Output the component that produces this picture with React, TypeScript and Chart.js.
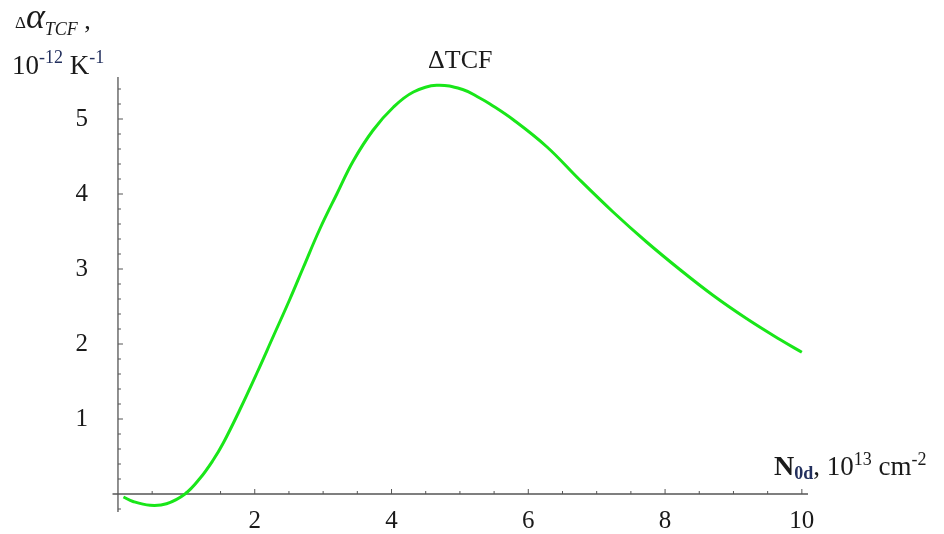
import React, { useEffect, useRef } from "react";
import { Chart, registerables } from "chart.js";

Chart.register(...registerables);

// ---- data ----
const nValues = [0.08, 0.22, 0.47, 0.71, 0.98, 1.2, 1.39, 1.54, 1.78, 2.03, 2.27, 2.51, 2.71, 2.95, 3.2, 3.44, 3.73, 4.03, 4.32, 4.66, 5.05, 5.29, 5.44, 5.78, 6.27, 6.75, 7.24, 7.73, 8.22, 8.7, 9.19, 9.68, 10.0];
const tcfValues = [-0.04, -0.1, -0.15, -0.13, 0, 0.21, 0.45, 0.68, 1.12, 1.61, 2.1, 2.59, 3.02, 3.53, 4.0, 4.44, 4.85, 5.16, 5.36, 5.45, 5.39, 5.28, 5.2, 4.99, 4.63, 4.19, 3.76, 3.36, 2.99, 2.65, 2.34, 2.06, 1.89];

const xMajorTicks = [2, 4, 6, 8, 10];
const xMinorTicks = [0.5, 1, 1.5, 2.5, 3, 3.5, 4.5, 5, 5.5, 6.5, 7, 7.5, 8.5, 9, 9.5];
const yMajorTicks = [1, 2, 3, 4, 5];
const yMinorTicks = [-0.2, 0.2, 0.4, 0.6, 0.8, 1.2, 1.4, 1.6, 1.8, 2.2, 2.4, 2.6, 2.8, 3.2, 3.4, 3.6, 3.8, 4.2, 4.4, 4.6, 4.8, 5.2, 5.4];

const chartTitle = "ΔTCF";

const SERIF = '"Liberation Serif", "Times New Roman", serif';
const NAVY = "#23305e";
const INK = "#1a1a1a";
const AXIS = "#555555";

type Run = { text: string; font: string; color?: string; dy?: number };

function drawRuns(ctx: CanvasRenderingContext2D, x: number, baseline: number, runs: Run[]) {
  let cx = x;
  ctx.textAlign = "left";
  ctx.textBaseline = "alphabetic";
  for (const r of runs) {
    ctx.font = r.font;
    ctx.fillStyle = r.color || INK;
    ctx.fillText(r.text, cx, baseline + (r.dy || 0));
    cx += ctx.measureText(r.text).width;
  }
}

const mathAxes = {
  id: "mathAxes",
  beforeDatasetsDraw(chart: any) {
    const { ctx, chartArea } = chart;
    const xs = chart.scales.x;
    const ys = chart.scales.y;
    const x0 = xs.getPixelForValue(0);
    const y0 = ys.getPixelForValue(0);
    ctx.save();
    ctx.strokeStyle = AXIS;
    ctx.lineWidth = 1.3;
    ctx.beginPath();
    ctx.moveTo(chartArea.left, y0);
    ctx.lineTo(chartArea.right, y0);
    ctx.moveTo(x0, chartArea.top);
    ctx.lineTo(x0, chartArea.bottom);
    ctx.stroke();
    ctx.lineWidth = 1;
    ctx.beginPath();
    for (const v of xMajorTicks) {
      const p = xs.getPixelForValue(v);
      ctx.moveTo(p, y0);
      ctx.lineTo(p, y0 - 5);
    }
    for (const v of xMinorTicks) {
      const p = xs.getPixelForValue(v);
      ctx.moveTo(p, y0);
      ctx.lineTo(p, y0 - 3);
    }
    for (const v of yMajorTicks) {
      const p = ys.getPixelForValue(v);
      ctx.moveTo(x0, p);
      ctx.lineTo(x0 + 5, p);
    }
    for (const v of yMinorTicks) {
      const p = ys.getPixelForValue(v);
      ctx.moveTo(x0, p);
      ctx.lineTo(x0 + 3, p);
    }
    ctx.stroke();
    ctx.restore();
  },
  afterDraw(chart: any) {
    const { ctx } = chart;
    ctx.save();
    // y axis title (two lines)
    drawRuns(ctx, 15, 28, [
      { text: "Δ", font: `17px ${SERIF}` },
      { text: "α", font: `italic 36px ${SERIF}`, dy: 0 },
      { text: "TCF", font: `italic 18px ${SERIF}`, dy: 7 },
      { text: " ,", font: `26px ${SERIF}`, dy: 1 },
    ]);
    drawRuns(ctx, 12, 74, [
      { text: "10", font: `27px ${SERIF}` },
      { text: "-12", font: `18px ${SERIF}`, color: NAVY, dy: -11 },
      { text: " K", font: `27px ${SERIF}` },
      { text: "-1", font: `18px ${SERIF}`, color: NAVY, dy: -11 },
    ]);
    // x axis title
    drawRuns(ctx, 774, 475, [
      { text: "N", font: `bold 28px ${SERIF}` },
      { text: "0d", font: `bold 18px ${SERIF}`, color: NAVY, dy: 4 },
      { text: ", 10", font: `27px ${SERIF}` },
      { text: "13", font: `18px ${SERIF}`, dy: -10 },
      { text: " cm", font: `27px ${SERIF}` },
      { text: "-2", font: `18px ${SERIF}`, dy: -10 },
    ]);
    ctx.restore();
  },
};

export default function App() {
  const canvasRef = useRef<HTMLCanvasElement | null>(null);

  useEffect(() => {
    const canvas = canvasRef.current;
    if (!canvas) return;
    const chart = new Chart(canvas, {
      type: "line",
      data: {
        datasets: [
          {
            label: chartTitle,
            data: nValues.map((x, i) => ({ x, y: tcfValues[i] })),
            borderColor: "#19e619",
            borderWidth: 3,
            pointRadius: 0,
            tension: 0.4,
            fill: false,
            clip: false,
          } as any,
        ],
      },
      options: {
        animation: false,
        responsive: false,
        maintainAspectRatio: false,
        layout: { padding: { left: 72.5, right: 136, top: 0, bottom: 22 } },
        plugins: {
          legend: { display: false },
          tooltip: { enabled: false },
          title: {
            display: true,
            text: chartTitle,
            fullSize: false,
            color: INK,
            font: { family: SERIF, size: 26, weight: "normal", lineHeight: 1.2 },
            padding: { top: 45.4, bottom: 0.4 },
          },
        },
        scales: {
          x: {
            type: "linear",
            position: { y: 0 } as any,
            min: -0.08,
            max: 10.09,
            grid: { display: false, drawTicks: false },
            border: { display: false },
            afterFit: (s: any) => {
              s.paddingLeft = 0;
              s.paddingRight = 0;
              s.paddingTop = 0;
              s.paddingBottom = 0;
            },
            afterBuildTicks: (s: any) => {
              s.ticks = xMajorTicks.map((v) => ({ value: v }));
            },
            ticks: {
              autoSkip: false,
              maxRotation: 0,
              padding: 12.5,
              color: INK,
              font: { family: SERIF, size: 25 },
              callback: (v: any) => String(v),
            },
          },
          y: {
            type: "linear",
            position: "left",
            min: -0.24,
            max: 5.56,
            grid: { display: false, drawTicks: false },
            border: { display: false },
            afterFit: (s: any) => {
              s.width = 40;
              s.paddingTop = 0;
              s.paddingBottom = 0;
            },
            afterBuildTicks: (s: any) => {
              s.ticks = yMajorTicks.map((v) => ({ value: v }));
            },
            ticks: {
              autoSkip: false,
              padding: 24.5,
              color: INK,
              font: { family: SERIF, size: 25 },
              callback: (v: any) => String(v),
            },
          },
        },
      },
      plugins: [mathAxes],
    });
    return () => chart.destroy();
  }, []);

  return (
    <div style={{ position: "fixed", left: 0, top: 0, width: 944, height: 534, background: "#ffffff" }}>
      <canvas ref={canvasRef} width={944} height={534} style={{ width: 944, height: 534, display: "block" }} />
    </div>
  );
}
